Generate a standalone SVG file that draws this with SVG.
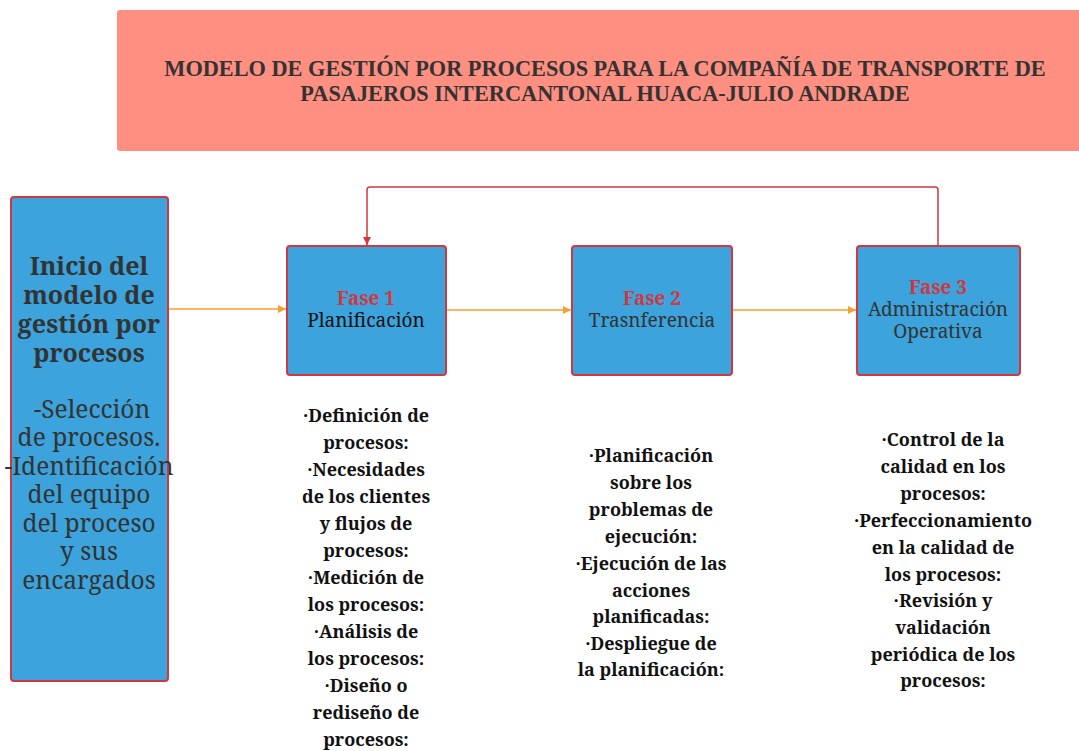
<svg xmlns="http://www.w3.org/2000/svg" width="1079" height="751" viewBox="0 0 1079 751">
<defs>
<style>
.box{fill:#3CA3DC;stroke:#D2373F;stroke-width:2}
.t{font-family:"Noto Serif","DejaVu Serif","Liberation Serif",serif;fill:#333;text-anchor:middle}
.b{font-weight:bold}
.red{fill:#D2373F}
.list{font-family:"Noto Serif","DejaVu Serif","Liberation Serif",serif;font-weight:bold;font-size:18px;fill:#111;text-anchor:middle}
.o{stroke:#F5A02C;stroke-width:1.5;fill:none}
</style>
<marker id="ao" viewBox="0 0 10 10" refX="10" refY="5" markerWidth="10" markerHeight="8" markerUnits="userSpaceOnUse" orient="auto"><path d="M0,0 L10,5 L0,10 z" fill="#F5A02C"/></marker>
<marker id="ar" viewBox="0 0 10 10" refX="10" refY="5" markerWidth="10" markerHeight="8" markerUnits="userSpaceOnUse" orient="auto"><path d="M0,0 L10,5 L0,10 z" fill="#D2373F"/></marker>
</defs>
<rect width="1079" height="751" fill="#fff"/>
<g id="title">
<rect x="117" y="10" width="970" height="141" rx="3" fill="#FF8F80"/>
<text class="t b" style="font-family:'Liberation Serif',serif" font-size="22.3" x="605" y="76">MODELO DE GESTIÓN POR PROCESOS PARA LA COMPAÑÍA DE TRANSPORTE DE</text>
<text class="t b" style="font-family:'Liberation Serif',serif" font-size="22.3" x="605" y="101">PASAJEROS INTERCANTONAL HUACA-JULIO ANDRADE</text>
</g>
<g id="connectors">
<path class="o" d="M168,309 H286" marker-end="url(#ao)"/>
<path class="o" d="M446,310 H571" marker-end="url(#ao)"/>
<path class="o" d="M732,310 H856" marker-end="url(#ao)"/>
<path d="M938,246 V190 Q938,187 935,187 H370 Q367,187 367,190 V245" fill="none" stroke="#D2373F" stroke-width="1.5" marker-end="url(#ar)"/>
</g>
<g id="inicio">
<rect class="box" x="11" y="197" width="157" height="484" rx="3"/>
<text class="t b" font-size="25"><tspan x="89" y="275">Inicio del</tspan><tspan x="89" y="304">modelo de</tspan><tspan x="89" y="333">gestión por</tspan><tspan x="89" y="362">procesos</tspan></text>
<text class="t" font-size="24.5"><tspan x="92" y="418">-Selección</tspan><tspan x="89" y="446">de procesos.</tspan><tspan x="89" y="475">-Identificación</tspan><tspan x="89" y="503">del equipo</tspan><tspan x="89" y="532">del proceso</tspan><tspan x="89" y="560">y sus</tspan><tspan x="89" y="589">encargados</tspan></text>
</g>
<g id="fase1">
<rect class="box" x="287" y="246" width="159" height="129" rx="3"/>
<text class="t b red" font-size="19" x="366" y="305">Fase 1</text>
<text class="t" font-size="19" x="366" y="327" style="fill:#111">Planificación</text>
</g>
<g id="fase2">
<rect class="box" x="572" y="246" width="160" height="129" rx="3"/>
<text class="t b red" font-size="19" x="652" y="305">Fase 2</text>
<text class="t" font-size="19" x="652" y="327">Trasnferencia</text>
</g>
<g id="fase3">
<rect class="box" x="857" y="246" width="163" height="129" rx="3"/>
<text class="t b red" font-size="19" x="938" y="294">Fase 3</text>
<text class="t" font-size="19" x="938" y="316">Administración</text>
<text class="t" font-size="19" x="938" y="338">Operativa</text>
</g>
<g id="lista1">
<text class="list"><tspan x="366" y="422">·Definición de</tspan><tspan x="366" y="449">procesos:</tspan><tspan x="366" y="476">·Necesidades</tspan><tspan x="366" y="503">de los clientes</tspan><tspan x="366" y="530">y flujos de</tspan><tspan x="366" y="557">procesos:</tspan><tspan x="366" y="584">·Medición de</tspan><tspan x="366" y="611">los procesos:</tspan><tspan x="366" y="638">·Análisis de</tspan><tspan x="366" y="665">los procesos:</tspan><tspan x="366" y="692">·Diseño o</tspan><tspan x="366" y="719">rediseño de</tspan><tspan x="366" y="746">procesos:</tspan></text>
</g>
<g id="lista2">
<text class="list"><tspan x="651" y="462">·Planificación</tspan><tspan x="651" y="489">sobre los</tspan><tspan x="651" y="516">problemas de</tspan><tspan x="651" y="543">ejecución:</tspan><tspan x="651" y="570">·Ejecución de las</tspan><tspan x="651" y="597">acciones</tspan><tspan x="651" y="623">planificadas:</tspan><tspan x="651" y="650">·Despliegue de</tspan><tspan x="651" y="676">la planificación:</tspan></text>
</g>
<g id="lista3">
<text class="list"><tspan x="943" y="446">·Control de la</tspan><tspan x="943" y="473">calidad en los</tspan><tspan x="943" y="500">procesos:</tspan><tspan x="943" y="527">·Perfeccionamiento</tspan><tspan x="943" y="554">en la calidad de</tspan><tspan x="943" y="581">los procesos:</tspan><tspan x="943" y="607">·Revisión y</tspan><tspan x="943" y="634">validación</tspan><tspan x="943" y="661">periódica de los</tspan><tspan x="943" y="687">procesos:</tspan></text>
</g>
</svg>
